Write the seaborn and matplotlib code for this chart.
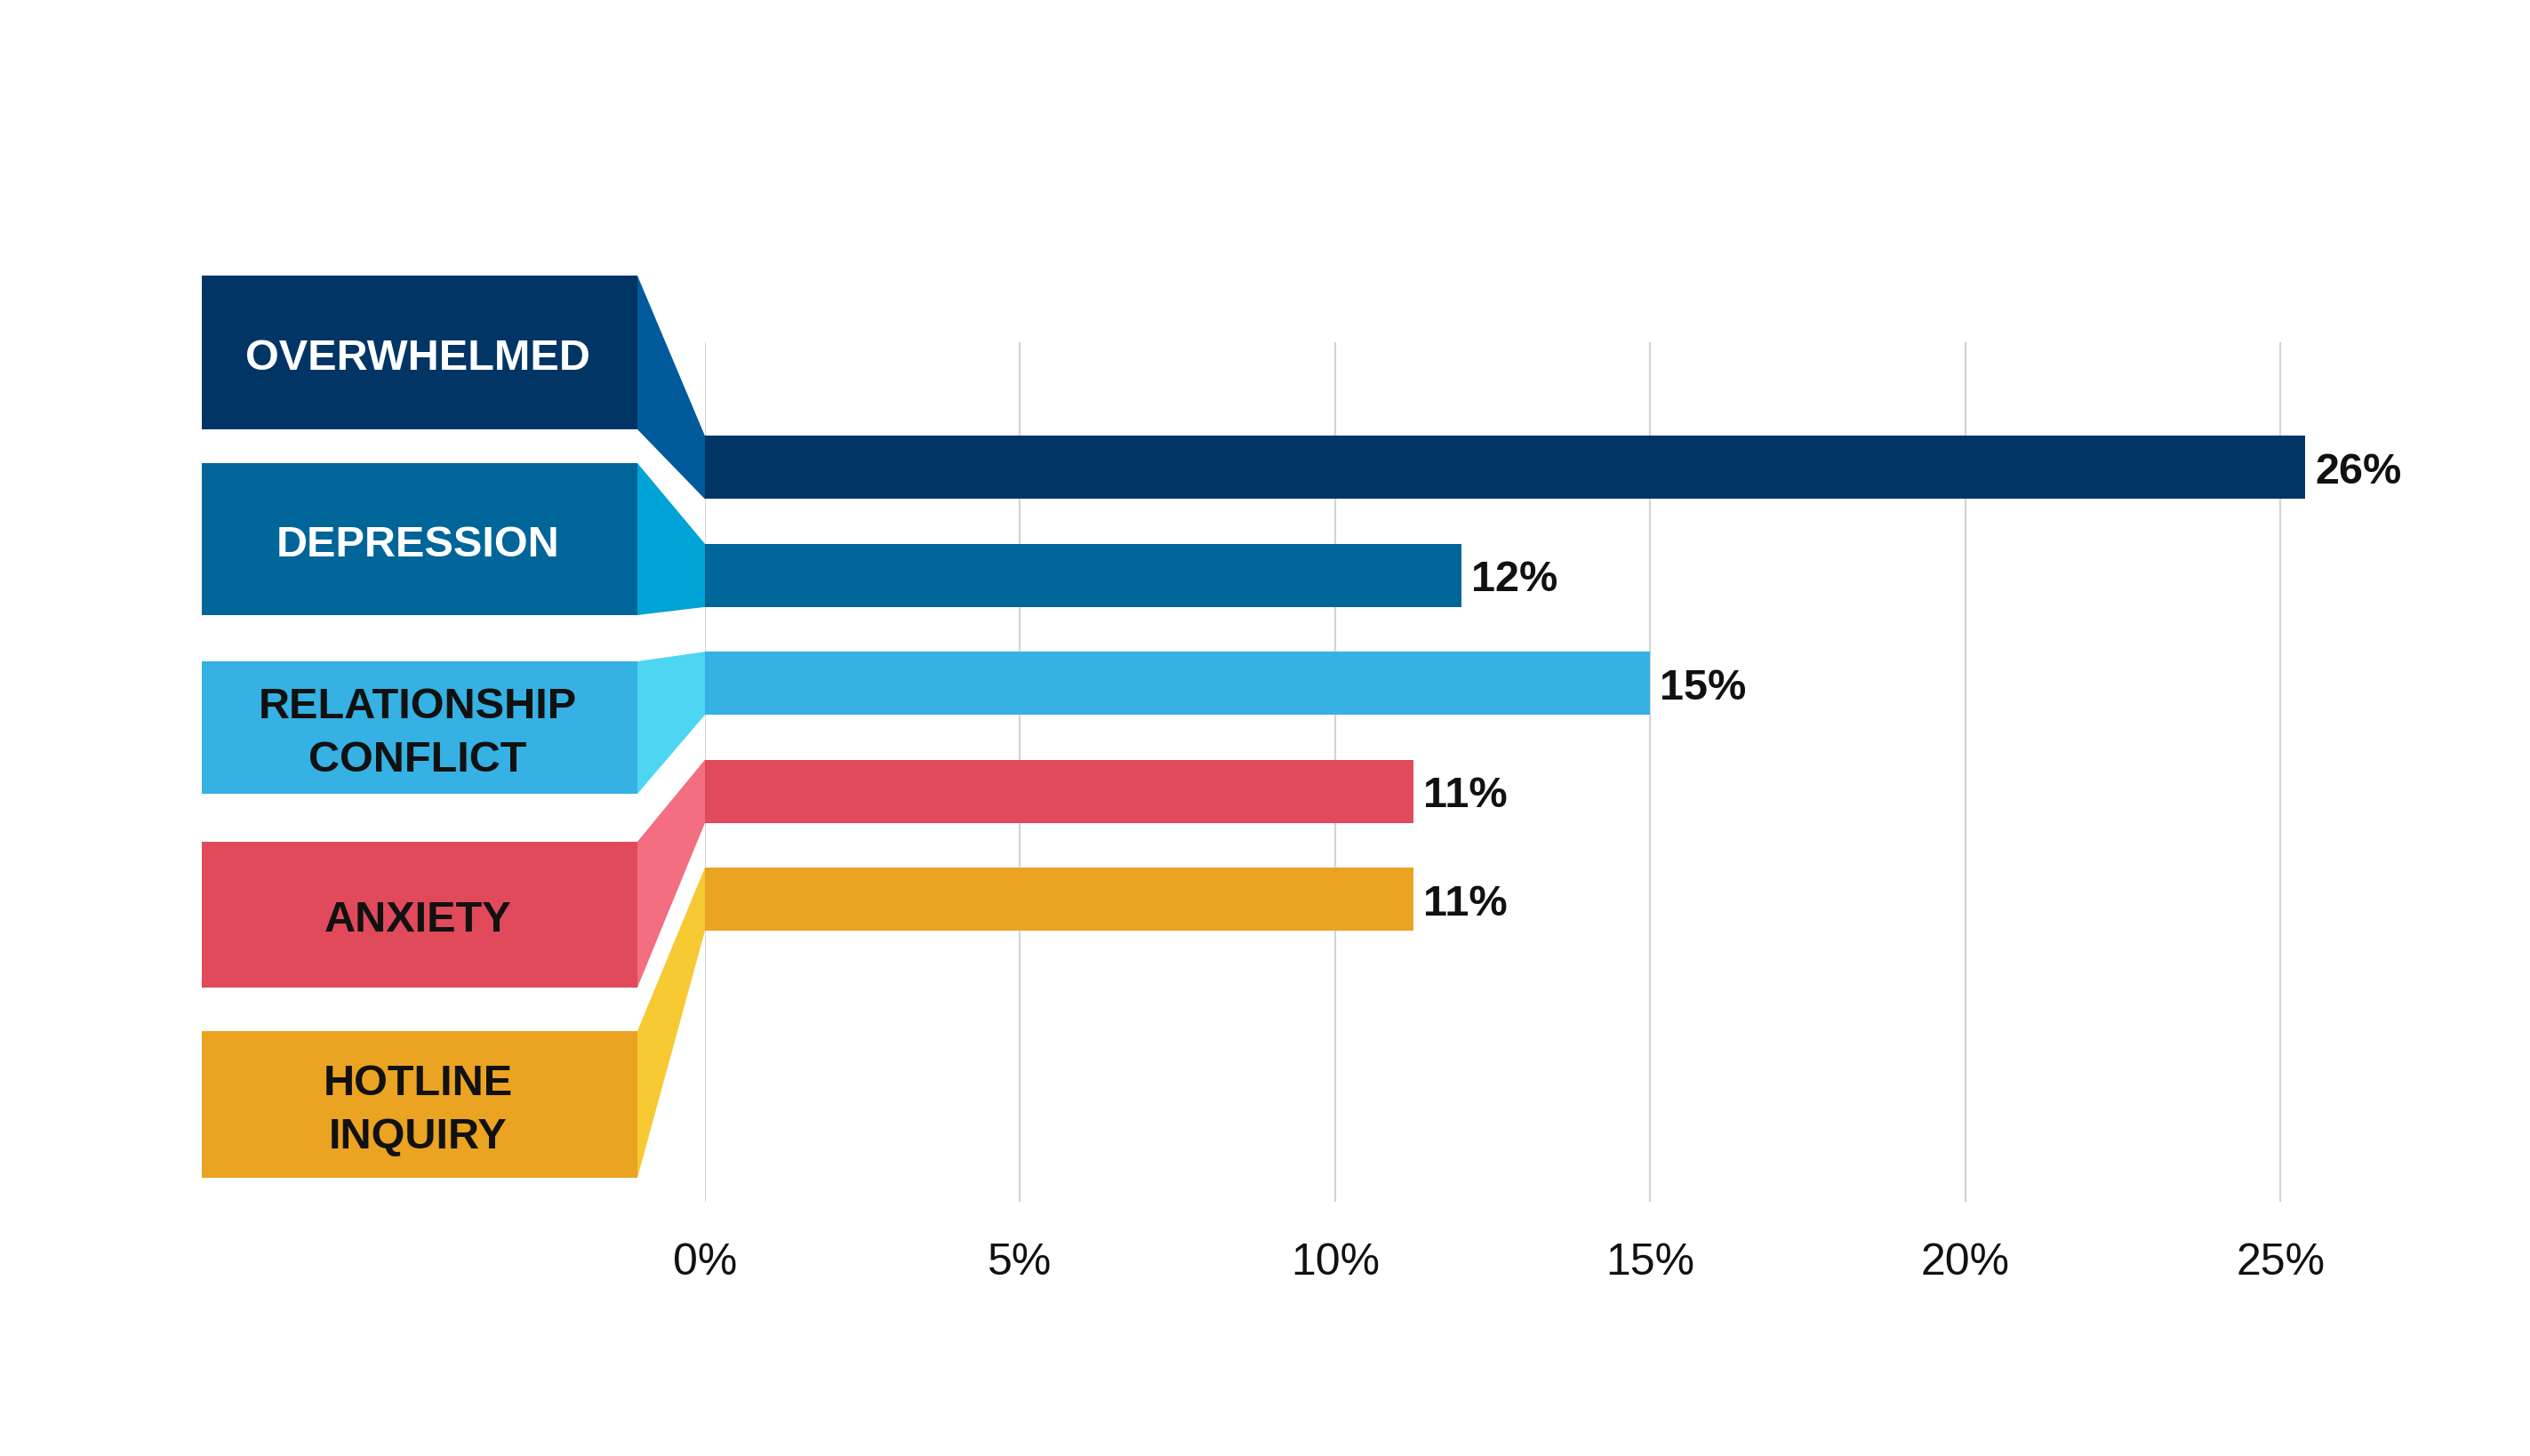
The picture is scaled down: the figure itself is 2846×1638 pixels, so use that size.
import matplotlib
matplotlib.use("Agg")
import matplotlib.pyplot as plt
import seaborn as sns
import pandas as pd
from matplotlib.patches import Polygon, Rectangle

# ---------------- data ----------------
categories = ["OVERWHELMED", "DEPRESSION", "RELATIONSHIP\nCONFLICT", "ANXIETY", "HOTLINE\nINQUIRY"]
values = [25.4, 12.0, 15.0, 11.25, 11.25]
value_labels = ["26%", "12%", "15%", "11%", "11%"]
x_ticks = [0, 5, 10, 15, 20, 25]
x_tick_labels = ["0%", "5%", "10%", "15%", "20%", "25%"]

bar_colors = ["#003565", "#006699", "#35B1E3", "#E04A5A", "#EBA322"]
connector_colors = ["#005A9C", "#00A3D6", "#4DD5F2", "#F26E80", "#F7C932"]
text_colors = ["white", "white", "#111111", "#111111", "#111111"]

# ---------------- layout (pixels) ----------------
W, H = 2846, 1638
box_left, box_right = 227, 717
box_tops = [310, 521, 744, 947, 1160]
box_bottoms = [483, 692, 893, 1111, 1325]

sns.set_theme(style="white")
plt.rcParams["font.family"] = ["Liberation Sans", "DejaVu Sans"]

fig = plt.figure(figsize=(W / 100, H / 100), dpi=100)
fig.patch.set_facecolor("white")

px_per_unit = 70.88
ax_left, ax_right, ax_top, ax_bottom = 793, 2790, 385, 1352
ax = fig.add_axes([ax_left / W, 1 - ax_bottom / H, (ax_right - ax_left) / W, (ax_bottom - ax_top) / H])

df = pd.DataFrame({"category": categories, "value": values})
sns.barplot(data=df, x="value", y="category", hue="category", palette=bar_colors,
            order=categories, hue_order=categories, width=0.585, saturation=1,
            legend=False, orient="h", ax=ax, linewidth=0)

ax.set_xlim(0, (ax_right - ax_left) / px_per_unit)
ax.set_ylim(6.804, -1.161)
ax.set_xticks(x_ticks)
ax.set_xticklabels(x_tick_labels)
ax.set_xlabel("")
ax.set_ylabel("")
ax.tick_params(axis="y", left=False, labelleft=False)
ax.tick_params(axis="x", length=0, pad=33, labelsize=36, labelcolor="#111111")
ax.grid(axis="x", color="#d4d4d4", linewidth=1.6)
ax.grid(axis="y", visible=False)
ax.set_axisbelow(True)
for s in ax.spines.values():
    s.set_visible(False)
ax.patch.set_alpha(0)

for i, (v, lab) in enumerate(zip(values, value_labels)):
    ax.text(v + 0.155, i + 0.045, lab, ha="left", va="center", fontsize=35,
            fontweight="bold", color="#111111")

# ---------------- overlay for label boxes & connectors ----------------
ov = fig.add_axes([0, 0, 1, 1])
ov.set_xlim(0, W)
ov.set_ylim(H, 0)
ov.axis("off")
ov.patch.set_alpha(0)

bars = sorted(ax.patches, key=lambda p: p.get_y())
to_ov = ax.transData + ov.transData.inverted()

for i, p in enumerate(bars):
    y0 = p.get_y()
    y1 = p.get_y() + p.get_height()
    x0px, ytop = to_ov.transform((0, y0))
    _, ybot = to_ov.transform((0, y1))
    top, bot = box_tops[i], box_bottoms[i]
    ov.add_patch(Polygon([(box_right, top), (x0px, ytop), (x0px, ybot), (box_right, bot)],
                         closed=True, facecolor=connector_colors[i], edgecolor="none"))
    ov.add_patch(Rectangle((box_left, top), box_right - box_left, bot - top,
                           facecolor=bar_colors[i], edgecolor="none"))
    ov.text((box_left + box_right) / 2 - 2, (top + bot) / 2 + 7, categories[i],
            ha="center", va="center", multialignment="center", fontsize=35,
            fontweight="bold", color=text_colors[i], linespacing=1.42)

fig.savefig("out.png", dpi=100, facecolor="white")
